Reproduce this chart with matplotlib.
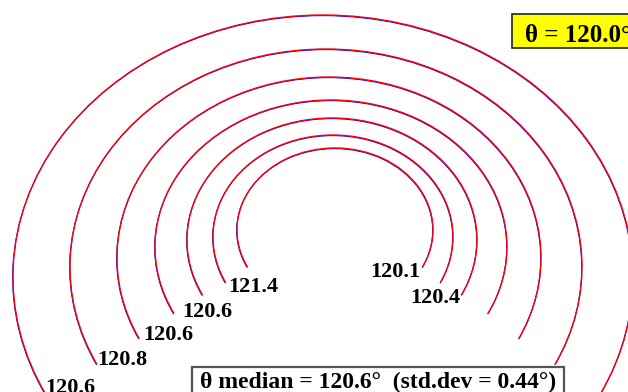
import matplotlib
matplotlib.use("Agg")
import matplotlib.pyplot as plt
from matplotlib.patches import Arc, Rectangle

# ring geometry (pixel units, y downward)
ring_cx = [323, 326, 329, 331, 332, 333, 335]
ring_cy = [277, 267, 258, 247, 240, 237, 230]
ring_a = [310, 256, 212, 176, 145, 120, 98]
ring_b = [262, 218, 181, 147, 122, 102, 82]
arc_start = 157
arc_end = 23

# per-ring fitted angles and where they sit
ring_labels = ["120.6", "120.8", "120.6", "120.6", "121.4", "120.1", "120.4"]
label_x = [45, 97, 143, 182, 228, 370, 410]
label_y = [393, 365, 340, 317, 292, 277, 303]

theta_nominal = 120.0
theta_median = 120.6
theta_std = 0.44

fig = plt.figure(figsize=(6.28, 3.92), dpi=100)
ax = fig.add_axes([0, 0, 1, 1])
ax.set_xlim(0, 628)
ax.set_ylim(392, 0)
ax.axis("off")

for cx, cy, a, b in zip(ring_cx, ring_cy, ring_a, ring_b):
    # measured ring (blue) mostly hidden under the fitted ring (red)
    ax.add_patch(Arc((cx - 0.3, cy + 0.6), 2 * a, 2 * b, theta1=arc_start, theta2=arc_end,
                     color="#0000ff", lw=0.8))
    ax.add_patch(Arc((cx, cy), 2 * a, 2 * b, theta1=arc_start, theta2=arc_end,
                     color="#ff0000", lw=1.0))

font = dict(family="Liberation Serif", weight="bold")
for txt, x, y in zip(ring_labels, label_x, label_y):
    ax.text(x, y, txt, fontsize=16, ha="left", va="baseline", color="black", **font)

# top-right box with the nominal angle
ax.add_patch(Rectangle((512, 14), 130, 34, facecolor="#ffff00", edgecolor="#222222",
                       lw=1.2, clip_on=False))
ax.text(525, 42, "\u03b8 = %.1f\u00b0" % theta_nominal, fontsize=18, ha="left",
        va="baseline", **font)

# bottom box with median and spread
ax.add_patch(Rectangle((192, 367), 372, 40, facecolor="white", edgecolor="#555555",
                       lw=1.6, clip_on=False))
ax.text(200, 388, "\u03b8 median = %.1f\u00b0  (std.dev = %.2f\u00b0)" % (theta_median, theta_std),
        fontsize=17, ha="left", va="baseline", **font)

fig.savefig("out.png", dpi=100)
